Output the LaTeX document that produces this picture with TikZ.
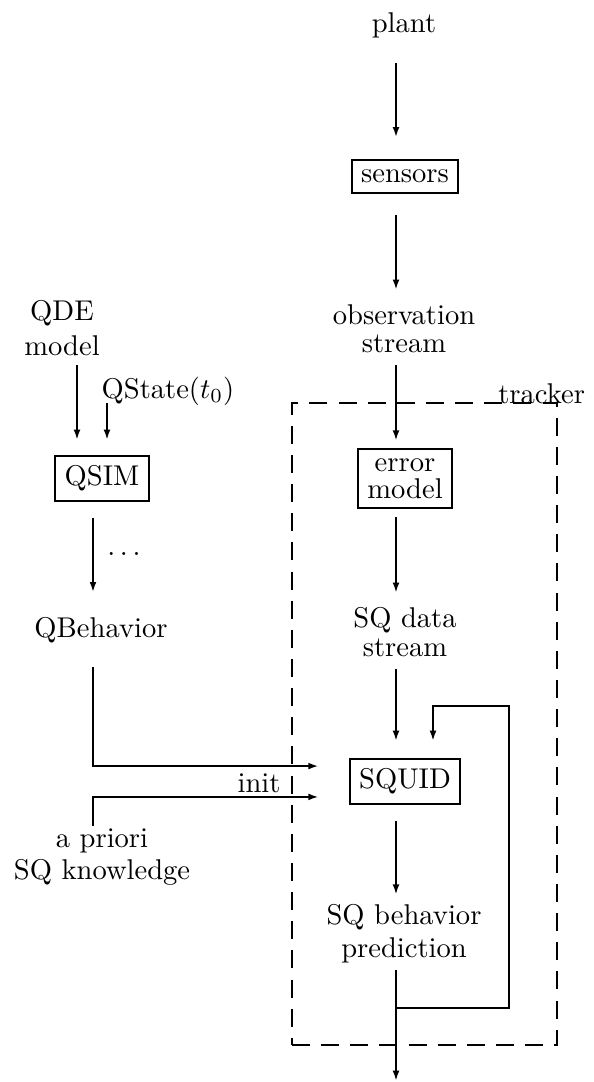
\documentclass[tikz,border=0pt]{standalone}
\usetikzlibrary{arrows.meta}
\tikzset{
	lbl/.style={inner sep=0pt, outer sep=0pt, align=center},
	blk/.style={draw, line width=0.7pt, align=center},
	flow/.style={->, line width=0.8pt},
	trackbox/.style={draw, dash pattern=on 6.3pt off 3.9pt, line width=0.9pt, inner sep=0pt, outer sep=0pt},
}
\begin{document}
\begin{tikzpicture}[x=0.35pt, y=-0.35pt, >={Latex[length=3.6pt,width=2.4pt]}]
		\useasboundingbox (0,0) rectangle (593,1082);
		% Columns of the connectors
		\coordinate (spine) at (396,0);
		\coordinate (qcol) at (93,0);
		\coordinate (qdecol) at (77,0);
		\coordinate (qstcol) at (107,0);
		\coordinate (loop) at (509,706);
		\coordinate (split) at (396,1008);
		\coordinate (out) at (396,1081);

		% Tracker
		\node[trackbox, minimum width=92.75pt, minimum height=224.7pt] (tracker) at (424.5,724) {};
		\node[lbl, anchor=base east] (trklbl) at ([xshift=9.8pt]tracker.north east) {tracker};

		% Right column
		\node[lbl, anchor=base] (plant) at (404,33) {plant};
		\node[blk] (sensors) at (405,176.5) {sensors};
		\node[lbl] (obs) at (404,328.7) {observation\\[-2.5pt]stream};
		\node[blk] (errmod) at (405,478.5) {error\\[-2.5pt]model};
		\node[lbl] (sqdata) at (405,632) {SQ data\\[-1.8pt]stream};
		\node[blk] (squid) at (405,781.5) {SQUID};
		\node[lbl] (pred) at (404,934) {SQ behavior\\[-0.5pt]prediction};

		% Left column
		\node[lbl] (qde) at (62,328) {QDE\\model};
		\node[lbl, anchor=base] (qstate) at (168,398) {QState$(t_0)$};
		\node[blk] (qsim) at (102,478.5) {QSIM};
		\node[lbl, anchor=base] (dots) at (124,555) {$\ldots$};
		\node[lbl, anchor=base] (qbeh) at (101,637) {QBehavior};
		\node[lbl, anchor=base] (init) at (259,792) {init};
		\node[lbl] (prior) at (102,857) {a priori\\[-0.8pt]SQ knowledge};

		% Main flow
		\draw[flow, shorten <=8.6pt, shorten >=7.7pt] (plant.south -| spine) -- (sensors.north -| spine);
		\draw[flow, shorten <=7.4pt, shorten >=5.3pt] (sensors.south -| spine) -- (obs.north -| spine);
		\draw[flow, shorten <=4.6pt, shorten >=2.5pt] (obs.south -| spine) -- (errmod.north -| spine);
		\draw[flow, shorten <=2.8pt, shorten >=5pt] (errmod.south -| spine) -- (sqdata.north -| spine);
		\draw[flow, shorten <=4.2pt, shorten >=6pt] (sqdata.south -| spine) -- (squid.north -| spine);
		\draw[flow, shorten <=5.6pt, shorten >=3.5pt] (squid.south -| spine) -- (pred.north -| spine);
		\draw[flow, shorten <=2.3pt] (pred.south -| spine) -- (out);
		\draw[line width=0.7pt, ->, shorten >=6pt] (split) -| (loop) -| ([xshift=9.8pt]squid.north);

		% QSIM side
		\draw[flow, shorten <=3.5pt, shorten >=5.3pt] (qde.south -| qdecol) -- (qsim.north -| qdecol);
		\draw[flow, shorten <=-0.7pt, shorten >=5.3pt] (qstate.south -| qstcol) -- (qsim.north -| qstcol);
		\draw[flow, shorten <=5.6pt, shorten >=8.6pt] (qsim.south -| qcol) -- (qbeh.north -| qcol);
		\draw[flow, shorten <=8.6pt, shorten >=10.5pt] (qbeh.south -| qcol) |- ([yshift=5.4pt]squid.west);
		\draw[line width=0.7pt, ->, shorten <=1pt, shorten >=10.5pt] (prior.north -| qcol) |- ([yshift=-5.4pt]squid.west);
\end{tikzpicture}
\end{document}
